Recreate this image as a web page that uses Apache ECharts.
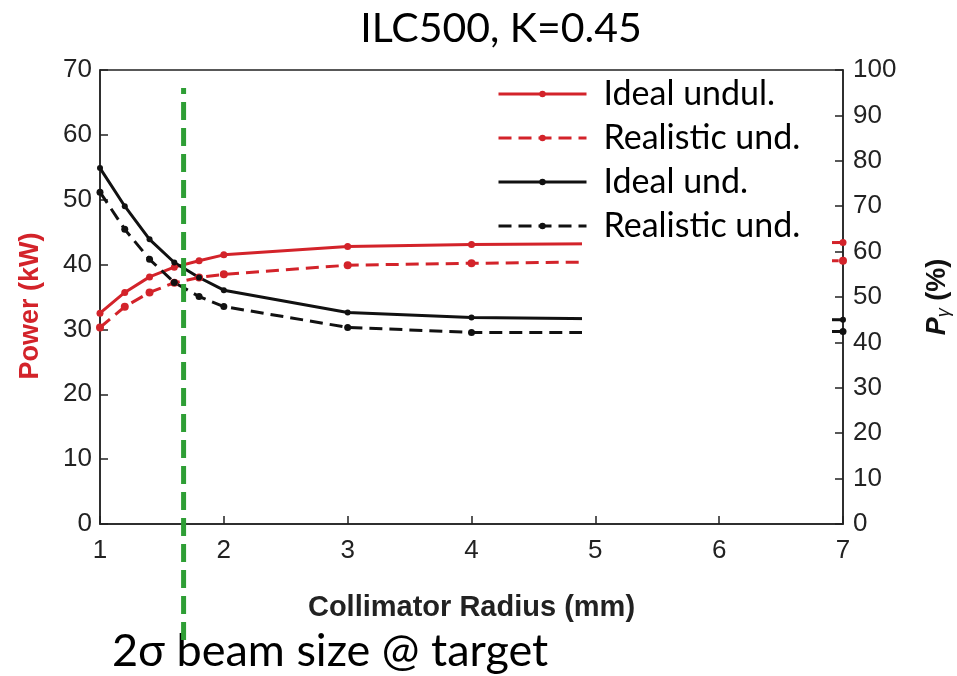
<!DOCTYPE html>
<html>
<head>
<meta charset="utf-8">
<style>html,body{margin:0;padding:0;background:#fff;}#c{width:957px;height:676px;}</style>
<script src="https://cdn.jsdelivr.net/npm/echarts@6/dist/echarts.min.js"></script>
</head>
<body>
<div id="c"></div>
<script>
var radius = [1, 1.2, 1.4, 1.6, 1.8, 2, 3, 4, 5, 6, 7];
var powerIdeal = [32.5, 35.7, 38.1, 39.6, 40.6, 41.5, 42.8, 43.1, 43.2, 43.3, 43.4];
var powerReal = [30.3, 33.5, 35.7, 37.2, 38.0, 38.5, 39.9, 40.2, 40.4, 40.5, 40.6];
var polIdeal = [78.4, 70.0, 62.7, 57.6, 54.3, 51.5, 46.6, 45.5, 45.2, 45.1, 45.0];
var polReal = [73.1, 64.9, 58.3, 53.2, 50.1, 47.9, 43.3, 42.2, 42.2, 42.3, 42.4];
var beamSize2Sigma = 1.675;
var legendNames = ['Ideal undul.', 'Realistic und.', 'Ideal und.', 'Realistic und. '];

function pairs(xs, ys) { return xs.map(function (x, i) { return [x, ys[i]]; }); }

var RED = '#d3232a', BLACK = '#111', GREEN = '#2e9e35';
var SANS = 'Liberation Sans, Arial, sans-serif';
var axisFont = {fontFamily: SANS, fontSize: 26, color: '#222'};

var chart = echarts.init(document.getElementById('c'));
chart.setOption({
  animation: false,
  backgroundColor: '#fff',
  title: [
    {text: 'ILC500, K=0.45', left: 496, textAlign: 'center', top: 3,
     textStyle: {fontFamily: 'Lato, sans-serif', fontSize: 41, fontWeight: 'normal', color: '#000'}},
    {text: '2σ beam size @ target', left: 107, top: 624,
     textStyle: {fontFamily: 'Lato, sans-serif', fontSize: 45, fontWeight: 'normal', color: '#000'}}
  ],
  legend: {
    orient: 'vertical', left: 492, top: 71, itemWidth: 88, itemHeight: 8, itemGap: 8,
    data: legendNames, z: 10,
    lineStyle: {width: 3},
    textStyle: {fontFamily: 'Lato, sans-serif', fontSize: 34, color: '#000', lineHeight: 36, padding: [0, 0, 0, 12]}
  },
  graphic: [{
    type: 'rect', left: 582, top: 72, z: 5,
    shape: {width: 250, height: 275}, style: {fill: '#fff'}
  }],
  grid: [
    {left: 100, right: 114, top: 70, bottom: 152, outerBoundsMode: 'none', show: true, borderColor: '#222', borderWidth: 1.5, backgroundColor: 'transparent'},
    {left: 100, right: 114, top: 88, bottom: 36, outerBoundsMode: 'none', show: false}
  ],
  xAxis: [
    {type: 'value', gridIndex: 0, min: 1, max: 7, interval: 1,
     name: 'Collimator Radius (mm)', nameLocation: 'middle', nameGap: 69,
     nameTextStyle: {fontFamily: SANS, fontSize: 29, fontWeight: 'bold', color: '#222'},
     axisLine: {lineStyle: {color: '#222', width: 1.5}},
     axisTick: {inside: true, length: 8, lineStyle: {color: '#222', width: 1.5}},
     axisLabel: Object.assign({margin: 14}, axisFont),
     splitLine: {show: false}},
    {type: 'value', gridIndex: 1, min: 1, max: 7, show: false}
  ],
  yAxis: [
    {type: 'value', gridIndex: 0, min: 0, max: 70, interval: 10, position: 'left',
     name: 'Power (kW)', nameLocation: 'middle', nameGap: 56,
     nameTextStyle: {fontFamily: SANS, fontSize: 27, fontWeight: 'bold', color: RED, padding: [0, 18, 0, 0]},
     axisLine: {show: true, lineStyle: {color: '#222', width: 1.5}},
     axisTick: {show: true, inside: true, length: 8, lineStyle: {color: '#222', width: 1.5}},
     axisLabel: Object.assign({margin: 8}, axisFont),
     splitLine: {show: false}},
    {type: 'value', gridIndex: 0, min: 0, max: 100, interval: 10, position: 'right',
     name: '{p|P}{g|γ}{n| (%)}', nameLocation: 'middle', nameGap: 80,
     nameTextStyle: {rich: {
       p: {fontFamily: SANS, fontSize: 27, fontWeight: 'bold', fontStyle: 'italic', color: '#111'},
       g: {fontFamily: SANS, fontSize: 18, fontStyle: 'italic', color: '#111', padding: [12, 0, 0, 0]},
       n: {fontFamily: SANS, fontSize: 27, fontWeight: 'bold', color: '#111'}
     }},
     axisLine: {show: true, lineStyle: {color: '#222', width: 1.5}},
     axisTick: {show: true, inside: true, length: 8, lineStyle: {color: '#222', width: 1.5}},
     axisLabel: Object.assign({margin: 10}, axisFont),
     splitLine: {show: false}},
    {type: 'value', gridIndex: 1, min: 0, max: 1, show: false}
  ],
  series: [
    {name: legendNames[0], type: 'line', xAxisIndex: 0, yAxisIndex: 0, data: pairs(radius, powerIdeal),
     symbol: 'circle', symbolSize: 7, color: RED, lineStyle: {color: RED, width: 3}, itemStyle: {color: RED}},
    {name: legendNames[1], type: 'line', xAxisIndex: 0, yAxisIndex: 0, data: pairs(radius, powerReal),
     symbol: 'circle', symbolSize: 8, color: RED, lineStyle: {color: RED, width: 3, type: [13, 7]}, itemStyle: {color: RED}},
    {name: legendNames[2], type: 'line', xAxisIndex: 0, yAxisIndex: 1, data: pairs(radius, polIdeal),
     symbol: 'circle', symbolSize: 6, color: BLACK, lineStyle: {color: BLACK, width: 3}, itemStyle: {color: BLACK}},
    {name: legendNames[3], type: 'line', xAxisIndex: 0, yAxisIndex: 1, data: pairs(radius, polReal),
     symbol: 'circle', symbolSize: 7, color: BLACK, lineStyle: {color: BLACK, width: 3, type: [13, 7]}, itemStyle: {color: BLACK}},
    {name: 'beam', type: 'line', xAxisIndex: 1, yAxisIndex: 2, z: 8, silent: true,
     data: [[beamSize2Sigma, 0], [beamSize2Sigma, 1]], symbol: 'none',
     lineStyle: {color: GREEN, width: 5, type: [18, 8]}}
  ]
});
</script>
</body>
</html>
